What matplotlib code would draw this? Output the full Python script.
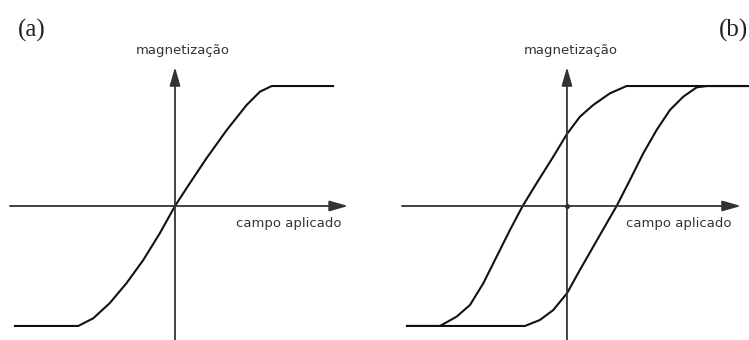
import matplotlib
matplotlib.use('Agg')
import matplotlib.pyplot as plt

# (a) curva de magnetização sem histerese (campo, magnetização)
campo_a = [-1.333, -0.806, -0.681, -0.542, -0.403, -0.264, -0.125, 0.0,
           0.125, 0.264, 0.431, 0.597, 0.708, 0.806, 1.317]
mag_a = [-1.0, -1.0, -0.936, -0.808, -0.642, -0.45, -0.225, 0.0,
         0.192, 0.40, 0.633, 0.842, 0.953, 1.0, 1.0]

# (b) ciclo de histerese: ramo da esquerda e ramo da direita
campo_b_esq = [-1.333, -1.058, -0.919, -0.808, -0.697, -0.586, -0.475, -0.369,
               -0.253, -0.114, 0.0, 0.108, 0.219, 0.358, 0.497, 1.517]
mag_b_esq = [-1.0, -1.0, -0.922, -0.825, -0.644, -0.422, -0.2, 0.0,
             0.19, 0.411, 0.6, 0.744, 0.842, 0.939, 1.0, 1.0]
campo_b_dir = [-1.333, -0.35, -0.225, -0.114, 0.0, 0.108, 0.219, 0.331, 0.414,
               0.525, 0.636, 0.747, 0.858, 0.969, 1.081, 1.164, 1.517]
mag_b_dir = [-1.0, -1.0, -0.95, -0.867, -0.728, -0.533, -0.339, -0.144, 0.0,
             0.217, 0.439, 0.633, 0.8, 0.911, 0.989, 1.0, 1.0]

rotulo_y = 'magnetização'
rotulo_x = 'campo aplicado'

COR_EIXO = '#333333'
COR_CURVA = '#111111'

fig = plt.figure(figsize=(7.49, 3.40), dpi=100)
fig.patch.set_facecolor('white')

ax_a = fig.add_axes([0, 0, 374 / 749, 1])
ax_b = fig.add_axes([374 / 749, 0, 375 / 749, 1])


def eixos(ax, x0, x1, y_topo):
    seta = dict(arrowstyle='-|>,head_length=0.7,head_width=0.2',
                mutation_scale=16, lw=1.3, color=COR_EIXO,
                shrinkA=0, shrinkB=0)
    ax.annotate('', xy=(x1, 0), xytext=(x0, 0), arrowprops=seta)
    ax.annotate('', xy=(0, y_topo), xytext=(0, -1.2), arrowprops=seta)


def rotulos(ax, xm, xc):
    ax.text(xm, 1.30, rotulo_y, ha='center', va='center',
            fontsize=9.5, color=COR_EIXO)
    ax.text(xc, -0.15, rotulo_x, ha='center', va='center',
            fontsize=9.5, color=COR_EIXO)


# painel (a)
ax_a.set_xlim(-1.458, 1.658)
ax_a.set_ylim(-1.117, 1.717)
eixos(ax_a, -1.375, 1.442, 1.158)
ax_a.plot(campo_a, mag_a, color=COR_CURVA, lw=1.5, solid_joinstyle='round')
rotulos(ax_a, 0.067, 0.95)
ax_a.axis('off')

# painel (b)
ax_b.set_xlim(-1.608, 1.517)
ax_b.set_ylim(-1.117, 1.717)
eixos(ax_b, -1.375, 1.45, 1.158)
ax_b.plot(campo_b_esq, mag_b_esq, color=COR_CURVA, lw=1.5, solid_joinstyle='round')
ax_b.plot(campo_b_dir, mag_b_dir, color=COR_CURVA, lw=1.5, solid_joinstyle='round')
ax_b.plot([0], [0], 'o', color=COR_CURVA, ms=2.5)
rotulos(ax_b, 0.033, 0.929)
ax_b.axis('off')

fig.text(32 / 749, 1 - 30 / 340, '(a)', ha='center', va='center',
         fontsize=18, family='Liberation Serif', color='#222222')
fig.text(733 / 749, 1 - 30 / 340, '(b)', ha='center', va='center',
         fontsize=18, family='Liberation Serif', color='#222222')

fig.savefig('out.png', dpi=100, facecolor='white')
